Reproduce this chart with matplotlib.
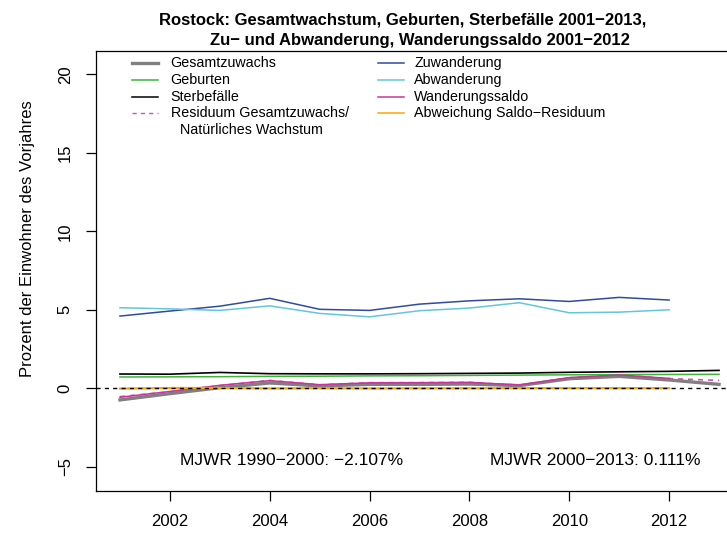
import numpy as np
import matplotlib
matplotlib.use('Agg')
import matplotlib.pyplot as plt
from matplotlib.lines import Line2D

"""Font Settings"""
plt.rcParams['font.family'] = ['Liberation Sans', 'DejaVu Sans']
plt.rcParams['axes.unicode_minus'] = True

"""Data"""
years = np.arange(2001, 2014)
years_mig = np.arange(2001, 2013)

gesamtzuwachs = [-0.74, -0.34, 0.04, 0.34, 0.15, 0.25, 0.25, 0.27, 0.17, 0.61, 0.76, 0.53, 0.25]
geburten = [0.72, 0.73, 0.74, 0.76, 0.77, 0.79, 0.80, 0.82, 0.84, 0.86, 0.87, 0.88, 0.89]
sterbefaelle = [0.91, 0.90, 1.01, 0.93, 0.92, 0.92, 0.93, 0.95, 0.97, 1.02, 1.05, 1.08, 1.14]
residuum = [-0.53, -0.22, 0.17, 0.50, 0.22, 0.36, 0.36, 0.38, 0.20, 0.67, 0.84, 0.62, 0.50]

zuwanderung = [4.60, 4.92, 5.23, 5.73, 5.03, 4.96, 5.36, 5.57, 5.70, 5.53, 5.79, 5.62]
abwanderung = [5.13, 5.06, 4.96, 5.25, 4.77, 4.55, 4.94, 5.11, 5.45, 4.81, 4.85, 5.00]
wanderungssaldo = [-0.57, -0.20, 0.19, 0.49, 0.23, 0.35, 0.36, 0.38, 0.21, 0.68, 0.85, 0.63]
abweichung = [-0.02, 0.02, 0.02, -0.01, 0.01, -0.01, 0.00, 0.00, 0.01, 0.01, 0.01, 0.01]

mjwr_labels = ['MJWR 1990\u22122000: \u22122.107%', 'MJWR 2000\u22122013: 0.111%']

title_lines = ['Rostock: Gesamtwachstum, Geburten, Sterbef\u00e4lle 2001\u22122013,',
               'Zu\u2212 und Abwanderung, Wanderungssaldo 2001\u22122012']

W, H = 727, 533


def px(x, y):
    # pixel position -> figure fraction
    return x / W, 1 - y / H


"""Figure and Axes"""
fig = plt.figure(figsize=(W / 100, H / 100), dpi=100, facecolor='white')
ax = fig.add_axes([96 / W, 1 - 491 / H, (743 - 96) / W, (491 - 51) / H])

c_ges = '#808080'
c_geb = '#3CB43C'
c_ster = 'black'
c_res = '#CC55AA'
c_zu = '#2F4C9E'
c_ab = '#63C6DC'
c_saldo = '#C8359A'
c_abw = '#FFA500'

ax.plot(years, residuum, color=c_res, lw=1.2, ls=(0, (3, 3)))
ax.plot(years, gesamtzuwachs, color=c_ges, lw=2.4)
ax.plot(years, geburten, color=c_geb, lw=1.1)
ax.plot(years, sterbefaelle, color=c_ster, lw=1.2)
ax.plot(years_mig, zuwanderung, color=c_zu, lw=1.1)
ax.plot(years_mig, abwanderung, color=c_ab, lw=1.1)
ax.plot(years_mig, wanderungssaldo, color=c_saldo, lw=1.1)
ax.plot(years_mig, abweichung, color=c_abw, lw=1.6)
ax.axhline(0, color='black', lw=1.0, ls=(0, (3, 3)))

ax.set_xlim(2000.52, 2013.48)
ax.set_ylim(-6.54, 21.48)
ax.set_xticks(np.arange(2002, 2013, 2))
ax.set_yticks(np.arange(-5, 21, 5))

for s in ['left', 'top', 'bottom']:
    ax.spines[s].set_linewidth(0.9)
    ax.spines[s].set_color('black')
ax.spines['right'].set_visible(False)

ax.tick_params(axis='both', length=7.2, width=0.9, labelsize=12)
ax.tick_params(axis='x', pad=9)
ax.tick_params(axis='y', pad=9.5)
plt.setp(ax.get_yticklabels(), rotation=90, va='center')

ax.text(2004.44, -4.62, mjwr_labels[0], ha='center', va='center', fontsize=12.5)
ax.text(2010.52, -4.62, mjwr_labels[1], ha='center', va='center', fontsize=12.5)

"""Titles"""
for line, cx, cy in zip(title_lines, [403, 419.5], [20, 40]):
    tx, ty = px(cx, cy)
    fig.text(tx, ty, line, ha='center', va='center', fontsize=12, fontweight='bold')
lx, ly = px(28, 239)
fig.text(lx, ly, 'Prozent der Einwohner des Vorjahres', rotation=90,
         ha='center', va='center', fontsize=12)

"""Legend (drawn by hand, R style)"""
col1 = [('Gesamtzuwachs', c_ges, 2.4, '-'),
        ('Geburten', c_geb, 1.1, '-'),
        ('Sterbef\u00e4lle', c_ster, 1.1, '-'),
        ('Residuum Gesamtzuwachs/', c_res, 1.0, (0, (3, 3)))]
col2 = [('Zuwanderung', c_zu, 1.1, '-'),
        ('Abwanderung', c_ab, 1.1, '-'),
        ('Wanderungssaldo', c_saldo, 1.1, '-'),
        ('Abweichung Saldo\u2212Residuum', c_abw, 1.1, '-')]
rows = [63.3, 80.0, 96.7, 113.3]

for entries, x0, x1, xt in [(col1, 131.7, 158.3, 170.7), (col2, 377.7, 404.3, 414.4)]:
    for (lab, col, lw, ls), yr in zip(entries, rows):
        (a, b), (c, d) = px(x0, yr), px(x1, yr)
        fig.add_artist(Line2D([a, c], [b, d], color=col, lw=lw, ls=ls,
                              transform=fig.transFigure))
        tx, ty = px(xt, yr)
        fig.text(tx, ty, lab, ha='left', va='center', fontsize=10.3)
tx, ty = px(180, 130)
fig.text(tx, ty, 'Nat\u00fcrliches Wachstum', ha='left', va='center', fontsize=10.3)

fig.savefig('out.png', dpi=100)
